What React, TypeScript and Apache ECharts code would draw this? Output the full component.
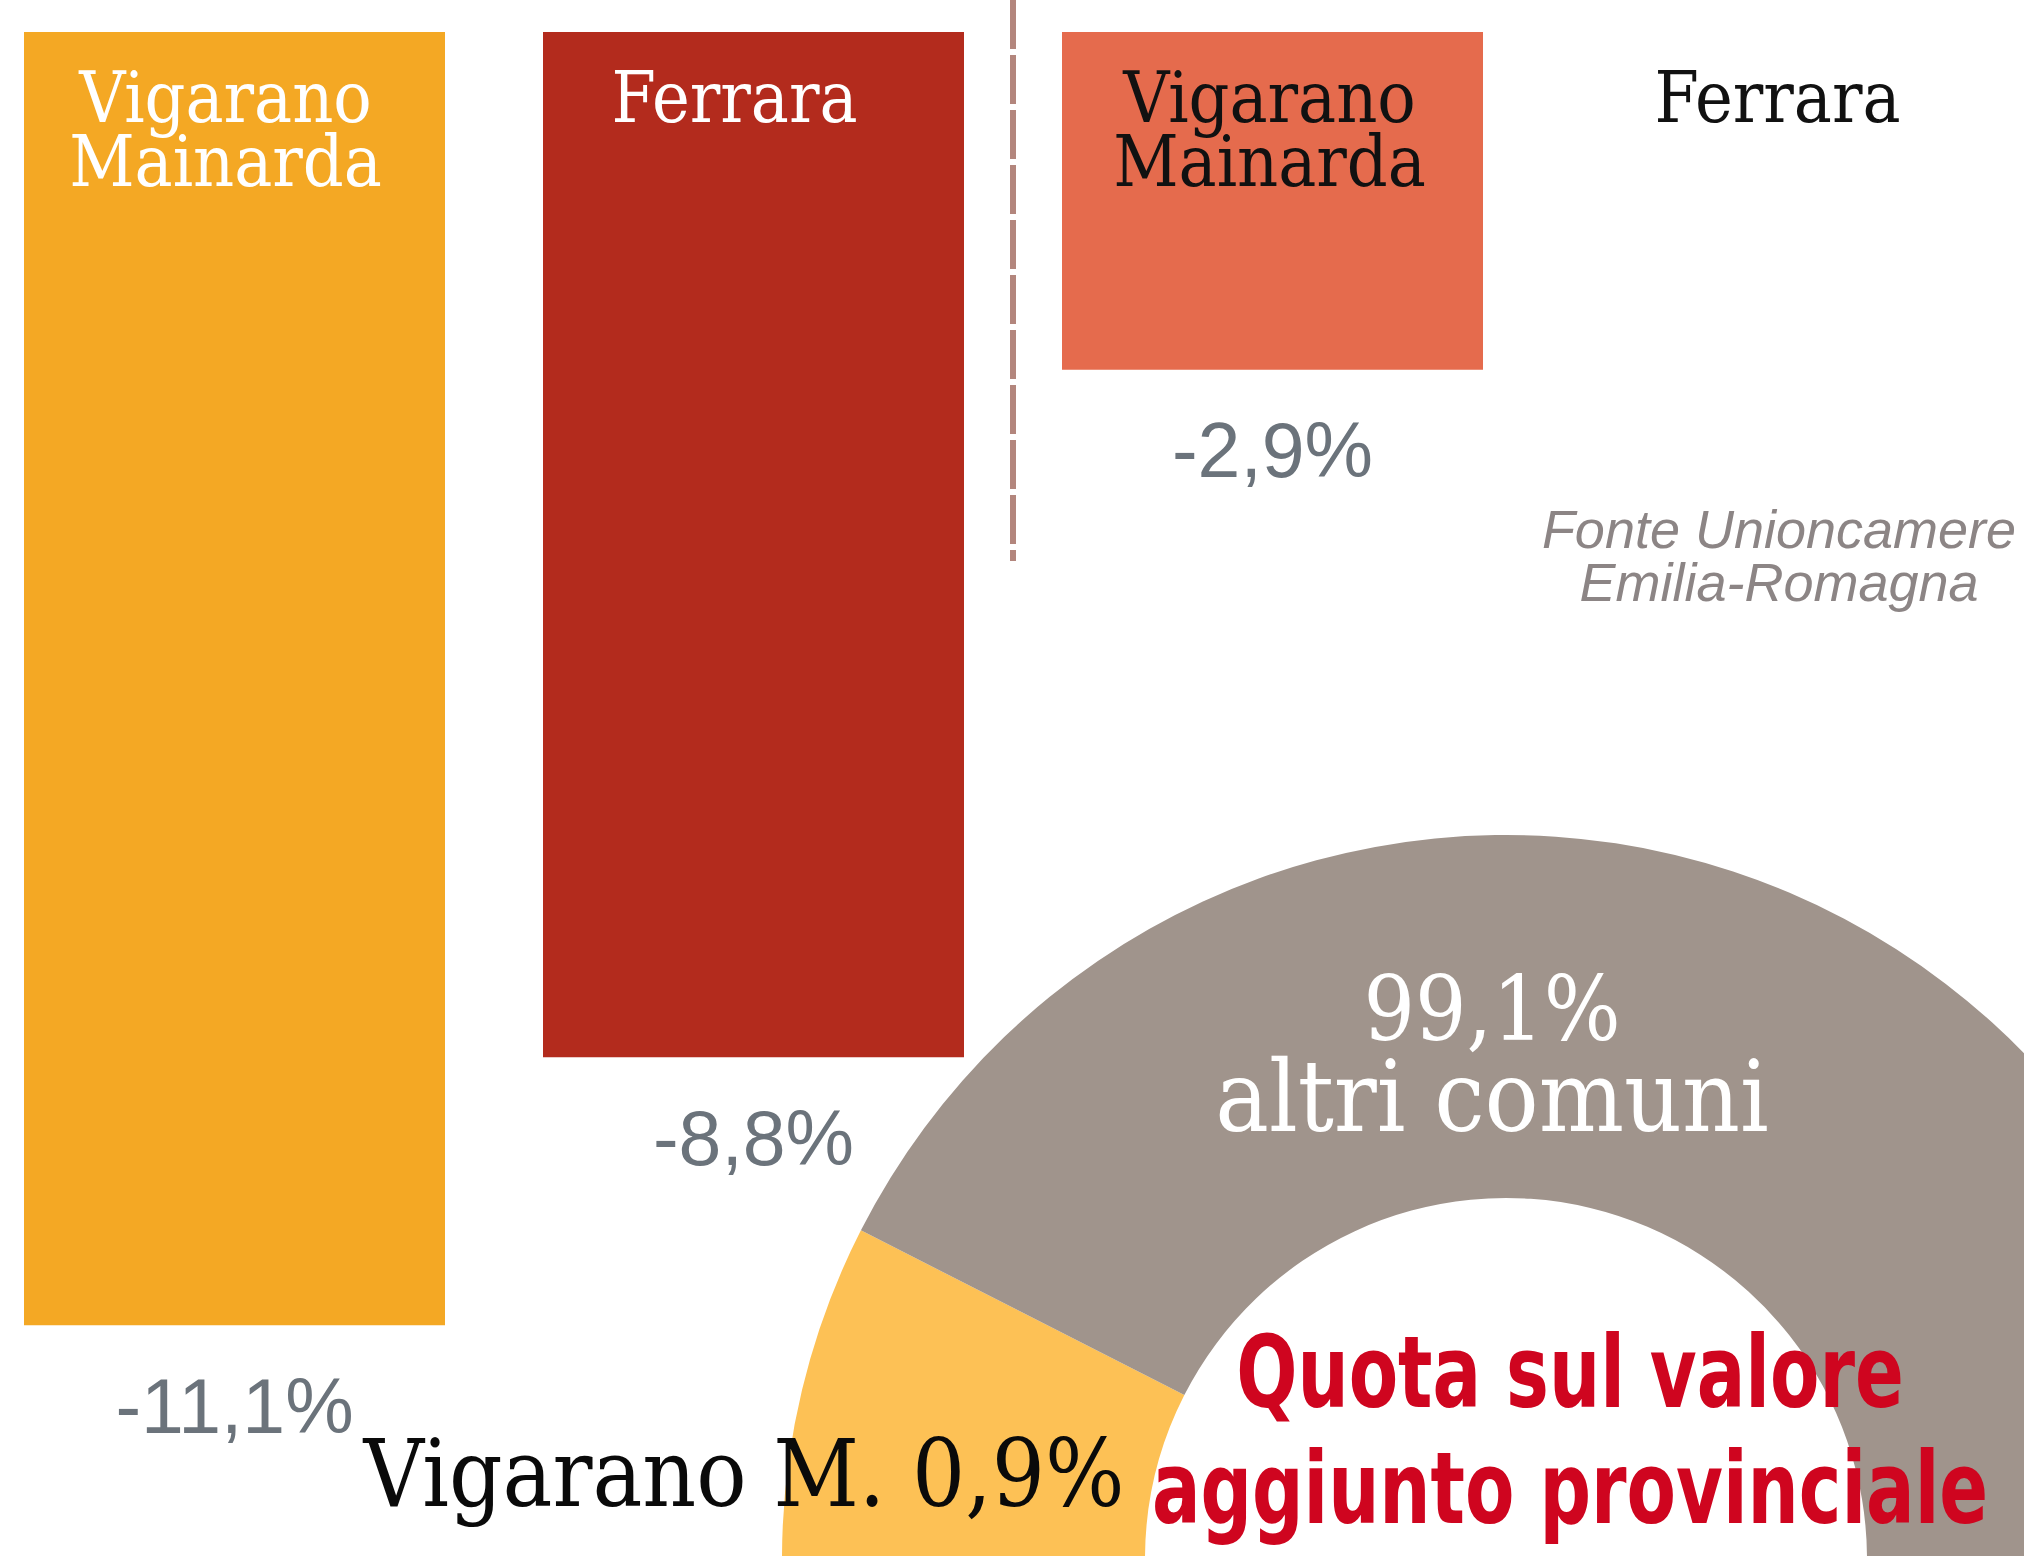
import React, { useEffect, useRef } from "react";
import * as echarts from "echarts";

// ---- data ----
const categories = ["Vigarano\nMainarda", "Ferrara", "Vigarano\nMainarda", "Ferrara"];
const changeValues: (number | null)[] = [-11.1, -8.8, -2.9, null];
const barColors = ["#f4a824", "#b32b1d", "#e56b4d", "#ffffff"];
const categoryLabelColors = ["#ffffff", "#ffffff", "#111111", "#111111"];

const shareNames = ["Vigarano M.", "altri comuni"];
const shareValues = [0.9, 99.1];
const shareColors = ["#fdc155", "#a0948c"];

const sourceText = "Fonte Unioncamere\nEmilia-Romagna";
const titleText = "Quota sul valore\naggiunto provinciale";

// styling: horizontal nudge (px, to the left) of each category label
const labelNudge = [9, 19, 3, 14];

const fmt = (v: number) => v.toFixed(1).replace(".", ",") + "%";

const SERIF = "'DejaVu Serif Condensed', 'DejaVu Serif', serif";
const SANS = "'Liberation Sans', Arial, sans-serif";
const HAND = "'Liberation Sans Narrow', 'DejaVu Sans Condensed', sans-serif";

export default function App() {
  const ref = useRef<HTMLDivElement>(null);
  useEffect(() => {
    document.body.style.margin = "0";
    const chart = echarts.init(ref.current!, null, { renderer: "svg" });
    const option: any = {
      animation: false,
      backgroundColor: "#ffffff",
      grid: {
        left: -25,
        width: 2076,
        top: 32,
        height: 13 * 116.5,
        outerBoundsMode: "none",
        containLabel: false,
      },
      xAxis: {
        type: "category",
        position: "top",
        data: categories.map((c, i) => ({
          value: c,
          textStyle: {
            color: categoryLabelColors[i],
            padding: [0, labelNudge[i] * 2, 0, 0],
          },
        })),
        axisLine: { show: false },
        axisTick: { show: false },
        axisLabel: {
          inside: true,
          margin: 33,
          verticalAlign: "top",
          fontFamily: SERIF,
          fontSize: 71,
          lineHeight: 64.5,
          interval: 0,
        },
        z: 10,
      },
      yAxis: {
        type: "value",
        min: -13,
        max: 0,
        show: false,
        splitLine: { show: false },
      },
      series: [
        {
          type: "bar",
          data: changeValues.map((v, i) => ({
            value: v,
            itemStyle: { color: barColors[i] },
          })),
          barWidth: 421,
          label: {
            show: true,
            position: "bottom",
            distance: 42,
            fontFamily: SANS,
            fontSize: 77,
            lineHeight: 77,
            color: "#6b737b",
            formatter: (p: any) => (p.value == null ? "" : fmt(p.value)),
          },
          silent: true,
        },
        {
          type: "pie",
          center: [1506, 1559],
          radius: [361, 724],
          startAngle: 180,
          endAngle: 0,
          clockwise: true,
          minAngle: 27,
          avoidLabelOverlap: false,
          label: { show: false },
          labelLine: { show: false },
          silent: true,
          data: shareNames.map((n, i) => ({
            name: n,
            value: shareValues[i],
            itemStyle: { color: shareColors[i] },
          })),
        },
      ],
      graphic: [
        {
          type: "line",
          shape: { x1: 1013, y1: 0, x2: 1013, y2: 561 },
          style: { stroke: "#b3867d", lineWidth: 6, lineDash: [49, 6] },
        },
        {
          type: "text",
          x: 1779,
          y: 555,
          style: {
            text: sourceText,
            font: `italic 54px ${SANS}`,
            fill: "#8c8585",
            align: "center",
            verticalAlign: "middle",
            lineHeight: 53,
          },
        },
        {
          type: "text",
          x: 1492,
          y: 1008,
          z: 100,
          style: {
            text: fmt(shareValues[1]),
            font: `90px ${SERIF}`,
            fill: "#ffffff",
            align: "center",
            verticalAlign: "middle",
          },
        },
        {
          type: "text",
          x: 1492,
          y: 1096,
          z: 100,
          style: {
            text: shareNames[1],
            font: `100px ${SERIF}`,
            fill: "#ffffff",
            align: "center",
            verticalAlign: "middle",
          },
        },
        {
          type: "text",
          x: 744,
          y: 1474,
          z: 100,
          style: {
            text: shareNames[0] + " " + fmt(shareValues[0]),
            font: `93px ${SERIF}`,
            fill: "#0a0a0a",
            align: "center",
            verticalAlign: "middle",
          },
        },
        {
          type: "text",
          x: 1570,
          y: 1430,
          scaleX: 0.8,
          z: 100,
          style: {
            text: titleText,
            font: `bold 100px ${HAND}`,
            fill: "#cf051f",
            align: "center",
            verticalAlign: "middle",
            lineHeight: 116,
          },
        },
      ],
    };
    chart.setOption(option);
    return () => chart.dispose();
  }, []);
  return (
    <div
      ref={ref}
      style={{ position: "fixed", left: 0, top: 0, width: 2024, height: 1556 }}
    />
  );
}
